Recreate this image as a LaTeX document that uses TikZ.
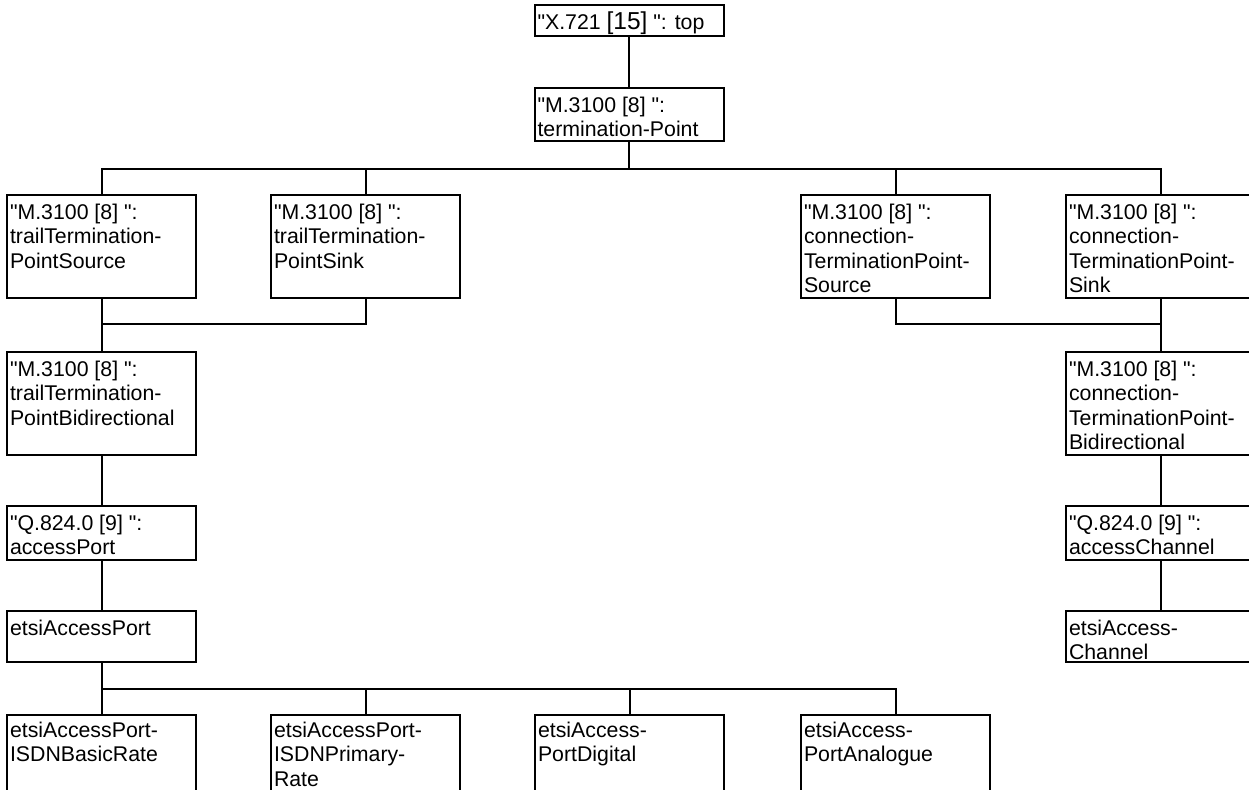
\documentclass[tikz,border=0pt]{standalone}
\usepackage{fontspec}
\newfontfamily\arialf{Liberation Sans}
\newcommand\boxfont{\arialf\fontsize{21.3pt}{24.3pt}\selectfont}
\newcommand\bxt[4][24.5]{\parbox[c][#3pt][t]{#2pt}{\boxfont\raggedright\leftskip=3pt\relax\rule{0pt}{#1pt}#4}}
\begin{document}
\begin{tikzpicture}[x=1pt,y=-1pt,
  cls/.style={draw, line width=2pt, inner sep=0pt, outer sep=0pt, anchor=north west},
  link/.style={line width=2pt}]
\useasboundingbox (0,0) rectangle (1249,789);
\clip (0,0) rectangle (1249,789);
% boxes
\node[cls] (top)  at (534.5,5) {\bxt{189.5}{31}{"X.721 {\fontsize{24.5pt}{24.3pt}\selectfont[15]} ": top}};
\node[cls] (term) at (534.5,88) {\bxt{189.5}{53}{"M.3100 [8] ":\\termination-Point}};
\node[cls] (tsrc) at (7,195) {\bxt{189}{103}{"M.3100 [8] ":\\trailTermination-\\PointSource}};
\node[cls] (tsnk) at (271,195) {\bxt{189}{103}{"M.3100 [8] ":\\trailTermination-\\PointSink}};
\node[cls] (csrc) at (801,195) {\bxt{189}{103}{"M.3100 [8] ":\\connection-\\TerminationPoint-\\Source}};
\node[cls] (csnk) at (1066,195) {\bxt{189}{103}{"M.3100 [8] ":\\connection-\\TerminationPoint-\\Sink}};
\node[cls] (tbi)  at (7,352) {\bxt{189}{103}{"M.3100 [8] ":\\trailTermination-\\PointBidirectional}};
\node[cls] (cbi)  at (1066,352) {\bxt{189}{103}{"M.3100 [8] ":\\connection-\\TerminationPoint-\\Bidirectional}};
\node[cls] (qport) at (7,506) {\bxt{189}{54}{"Q.824.0 [9] ":\\accessPort}};
\node[cls] (qchan) at (1066,506) {\bxt{189}{54}{"Q.824.0 [9] ":\\accessChannel}};
\node[cls] (eport) at (7,611) {\bxt{189}{51}{etsiAccessPort}};
\node[cls] (echan) at (1066,611) {\bxt{189}{51}{etsiAccess-\\Channel}};
\node[cls] (bri)  at (7,715) {\bxt[22.5]{189}{103}{etsiAccessPort-\\ISDNBasicRate}};
\node[cls] (pri)  at (271,715) {\bxt[22.5]{189}{103}{etsiAccessPort-\\ISDNPrimary-\\Rate}};
\node[cls] (dig)  at (535,715) {\bxt[22.5]{189}{103}{etsiAccess-\\PortDigital}};
\node[cls] (ana)  at (801,715) {\bxt[22.5]{189}{103}{etsiAccess-\\PortAnalogue}};
% bus levels
\coordinate (bus1) at (0,169);
\coordinate (bus2) at (0,324);
\coordinate (bus3) at (0,689);
% connectors
\draw[link] (top.south) -- (term.north);
\draw[link] (term.south) -- (term.south |- bus1);
\draw[link] (tsrc.north) -- (tsrc.north |- bus1) -- (csnk.north |- bus1) -- (csnk.north);
\draw[link] (tsnk.north) -- (tsnk.north |- bus1);
\draw[link] (csrc.north) -- (csrc.north |- bus1);
\draw[link] (tsrc.south) -- (tbi.north);
\draw[link] (tsnk.south) -- (tsnk.south |- bus2) -- (tsrc.south |- bus2);
\draw[link] (csnk.south) -- (cbi.north);
\draw[link] (csrc.south) -- (csrc.south |- bus2) -- (csnk.south |- bus2);
\draw[link] (tbi.south) -- (qport.north);
\draw[link] (cbi.south) -- (qchan.north);
\draw[link] (qport.south) -- (eport.north);
\draw[link] (qchan.south) -- (echan.north);
\draw[link] (eport.south) -- (bri.north);
\draw[link] (bri.north |- bus3) -- (ana.north |- bus3) -- (ana.north);
\draw[link] (pri.north) -- (pri.north |- bus3);
\draw[link] (dig.north) -- (dig.north |- bus3);
\end{tikzpicture}
\end{document}
